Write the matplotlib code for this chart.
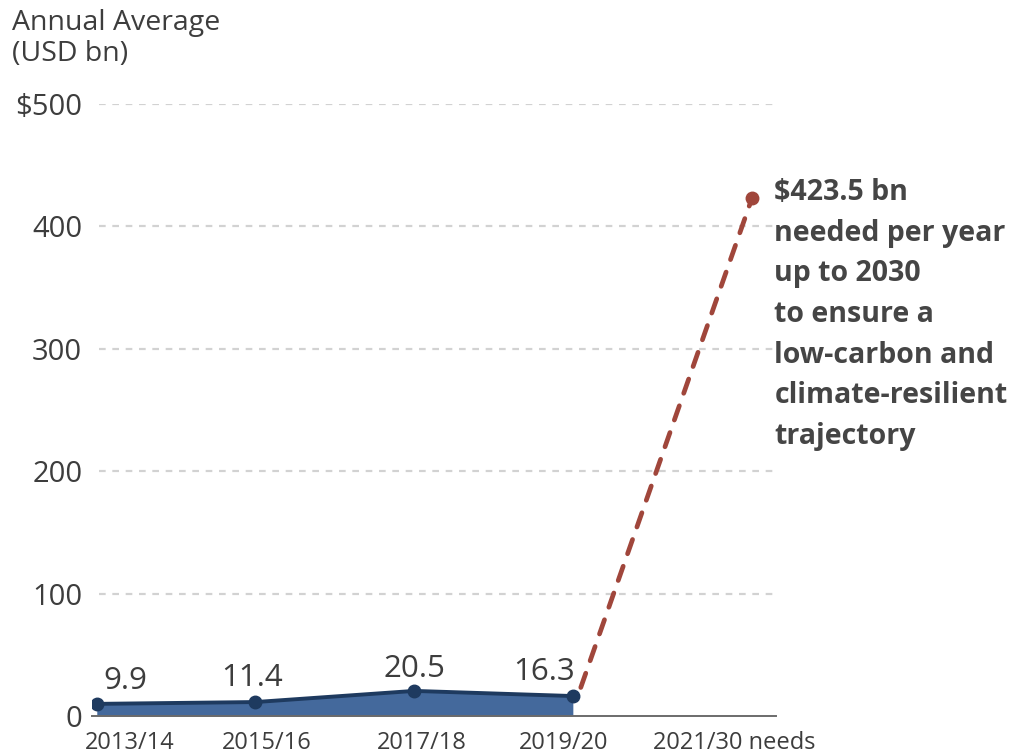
import matplotlib
matplotlib.use("Agg")
import matplotlib.pyplot as plt

# ---- data ----
periods = ["2013/14", "2015/16", "2017/18", "2019/20", "2021/30 needs"]
actual_values = [9.9, 11.4, 20.5, 16.3]
needs_value = 423.5
yticks = [0, 100, 200, 300, 400, 500]
ytick_labels = ["0", "100", "200", "300", "400", "$500"]
annotation = ("$423.5 bn\nneeded per year\nup to 2030\nto ensure a\n"
              "low-carbon and\nclimate-resilient\ntrajectory")

TEXT = "#3d3d3d"
FILL = "#44699c"
LINE = "#1e3a5f"
RED = "#a0463b"
GRID = "#d2d2d2"

plt.rcParams['font.family'] = ['Open Sans', 'DejaVu Sans']

fig = plt.figure(figsize=(10.19, 7.54), dpi=100)
ax = fig.add_axes([0.0903, 0.0504, 0.6712, 0.8117])

x_actual = list(range(len(actual_values)))
x_needs = len(actual_values) + 0.13

ax.fill_between(x_actual, actual_values, 0, color=FILL, lw=0, zorder=2)
ax.plot(x_actual, actual_values, color=LINE, lw=2.8, marker="o", ms=9,
        zorder=4, solid_capstyle="round", solid_joinstyle="round")
ax.plot([x_actual[-1] + 0.05, x_needs], [actual_values[-1] + 7, needs_value],
        color=RED, lw=3.4, dashes=(3.2, 2.8), dash_capstyle="round", zorder=3)
ax.plot([x_needs], [needs_value], "o", color=RED, ms=9, zorder=4)

label_dx = [0.18, -0.02, 0.0, -0.18]
label_dy = [12, 13, 11, 13]
for xi, v, dx, dy in zip(x_actual, actual_values, label_dx, label_dy):
    ax.text(xi + dx, v + dy, f"{v}", ha="center", va="baseline",
            fontsize=22.5, color=TEXT)

ax.text(x_needs + 0.14, needs_value + 16, annotation, ha="left", va="top",
        fontsize=20.5, fontweight="bold", color="#454545",
        linespacing=1.53)

ax.set_xlim(-0.03, 4.28)
ax.set_ylim(0, 500)
ax.set_yticks(yticks)
ax.set_yticklabels(ytick_labels)
# tick labels sit slightly off the points in the reference
ax.set_xticks([0.21, 1.07, 2.05, 2.94, 4.02])
ax.set_xticklabels(periods)
for lbl in ax.get_xticklabels():
    lbl.set_fontsize(17)
    lbl.set_color(TEXT)
for lbl in ax.get_yticklabels():
    lbl.set_fontsize(21)
    lbl.set_color(TEXT)
ax.tick_params(axis="both", length=0)
ax.tick_params(axis="y", pad=7)
ax.tick_params(axis="x", pad=11)

for yv in yticks[1:]:
    ax.axhline(yv, xmin=0.01, color=GRID, lw=1.6, dashes=(3, 3), zorder=1)

for s in ["top", "right", "left"]:
    ax.spines[s].set_visible(False)
ax.spines["bottom"].set_color("#6b6b6b")
ax.spines["bottom"].set_linewidth(1.4)
ax.spines["bottom"].set_zorder(5)

fig.text(0.012, 0.988, "Annual Average\n(USD bn)", ha="left", va="top",
         fontsize=20.5, color=TEXT, linespacing=1.15)

fig.savefig("out.png", dpi=100)
